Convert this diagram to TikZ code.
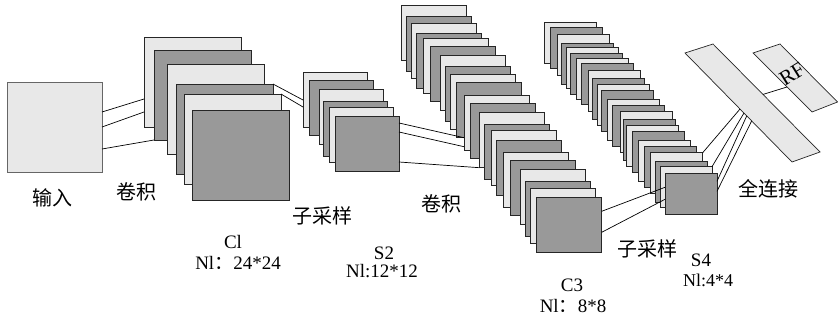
\documentclass[tikz,border=0pt]{standalone}
\usepackage{fontspec}
\setmainfont{Liberation Serif}
\newfontfamily\latfont{Liberation Serif}
\newfontfamily\cjk{Noto Sans CJK SC}
\usetikzlibrary{calc}
\definecolor{lightsq}{RGB}{232,232,232}
\definecolor{darksq}{RGB}{153,153,153}
\begin{document}
\begin{tikzpicture}[x=1pt,y=-1pt,
  sqbox/.style={draw=black!85, line width=0.7pt, inner sep=0pt, outer sep=0pt, anchor=north west},
  conn/.style={draw=black, line width=0.7pt},
  panel/.style={draw=black!85, line width=0.7pt, fill=lightsq},
  zh/.style={font=\cjk\fontsize{20}{24}\selectfont, inner sep=0pt},
  lat/.style={font=\latfont\fontsize{19}{22}\selectfont, inner sep=0pt}]
\useasboundingbox (0,0) rectangle (838,321);

% input
\node[sqbox, fill=lightsq, draw=black!60, minimum width=95pt, minimum height=90pt] (in) at (7,82) {};

% C1
\foreach \x/\y/\c [count=\i] in {144/37/lightsq,154/50/darksq,167/64/lightsq,176/84/darksq,184/94/lightsq,192/110/darksq}
  \node[sqbox, fill=\c, minimum width=97pt, minimum height=90pt] (c1-\i) at (\x,\y) {};

% S2
\foreach \x/\y/\c [count=\i] in {303/72/lightsq,309/80/darksq,319/89/lightsq,323/101/darksq,329/107/lightsq,335/116/darksq}
  \node[sqbox, fill=\c, minimum width=64pt, minimum height=55pt] (s2-\i) at (\x,\y) {};

% C3
\foreach \x/\y/\c [count=\i] in {401.3/5/lightsq,406/16.7/darksq,411.7/23.3/lightsq,416.7/33.3/darksq,423.3/38.3/lightsq,430.7/46/darksq,440/55/lightsq,445/66.7/darksq,450.7/74/lightsq,456.7/82.7/darksq,464/95.7/lightsq,470/103.3/darksq,479.3/112.7/lightsq,484.3/124.3/darksq,491/130/lightsq,496.7/140/darksq,503.3/152.3/lightsq,510/160/darksq,520/169.3/lightsq,525/181.7/darksq,530.7/188.3/lightsq,536.7/197.3/darksq}
  \node[sqbox, fill=\c, minimum width=65pt, minimum height=55pt] (c3-\i) at (\x,\y) {};

% S4
\foreach \x/\y/\c [count=\i] in {544.3/22.3/lightsq,550/27.3/darksq,557.3/34/lightsq,561.7/43.3/darksq,566/47.3/lightsq,570.7/53.3/darksq,576/58.3/lightsq,581.7/63.3/darksq,588.3/70/lightsq,592.7/78.3/darksq,597.3/84/lightsq,601/90/darksq,607.3/99.3/lightsq,612.3/105/darksq,620/111/lightsq,623.3/119.3/darksq,626.7/125/lightsq,632.7/131.7/darksq,638.3/140/lightsq,644/146/darksq,650.7/152.7/lightsq,655.7/161.7/darksq,660/166.7/lightsq,665/173.3/darksq}
  \node[sqbox, fill=\c, minimum width=52pt, minimum height=41pt] (s4-\i) at (\x,\y) {};

% fully connected panel and RF panel
\coordinate (fcA) at (685,53);
\coordinate (fcB) at (713,44);
\coordinate (fcC) at (820,152);
\coordinate (fcD) at (792,162);
\draw[panel] (fcA) -- (fcB) -- (fcC) -- (fcD) -- cycle;
\coordinate (rfE) at (753,53);
\coordinate (rfF) at (780,44);
\coordinate (rfG) at (837.5,102);
\coordinate (rfH) at (812,112);
\draw[panel] (rfE) -- (rfF) -- (rfG) -- (rfH) -- cycle;
\node[lat, font=\latfont\fontsize{21}{24}\selectfont, rotate=32] (rf) at (792,74) {RF};

% connectors
\draw[conn] ($(in.north east)+(0,30)$) -- ($(c1-1.north west)+(0,62)$);
\draw[conn] ($(in.north east)+(0,45)$) -- ($(c1-1.north west)+(0,75)$);
\draw[conn] ($(in.north east)+(0,67)$) -- (c1-2.south west);

\draw[conn] (c1-4.north east) -- ($(s2-1.north west)+(0,28)$);
\draw[conn] (c1-5.north east) -- ($(s2-1.north west)+(0,35)$);

\draw[conn] ($(s2-6.north east)+(0,7)$) -- ($(c3-11.north west)+(0,42)$);
\draw[conn] ($(s2-6.north east)+(0,16)$) -- ($(c3-11.north west)+(0,51)$);
\draw[conn] ($(s2-6.north east)+(0,46)$) -- (c3-13.south west);

\draw[conn] ($(c3-22.north east)+(0,14)$) -- ($(s4-24.north west)+(0,14)$);
\draw[conn] ($(c3-22.north east)+(0,35)$) -- ($(s4-24.north west)+(0,26)$);

\draw[conn] (s4-21.north east) -- ($(fcA)!0.514!(fcD)$);
\draw[conn] (s4-23.north east) -- ($(fcA)!0.551!(fcD)$);
\draw[conn] ($(s4-24.north east)+(0,8)$) -- ($(fcA)!0.577!(fcD)$);
\draw[conn] ($(s4-24.north east)+(0,18)$) -- ($(fcA)!0.623!(fcD)$);

\draw[conn] ($(fcB)!0.467!(fcC)$) -- ($(rfE)!0.576!(rfH)$);

% labels
\node[zh] (l-in) at (52,198) {输入};
\node[zh] (l-conv1) at (136,192) {卷积};
\node[zh] (l-sub1) at (322,216) {子采样};
\node[lat] (l-c1) at (233,242) {Cl};
\node[lat] (l-c1n) at (238,263) {Nl{\cjk ：}24*24};
\node[lat] (l-s2) at (384,253) {S2};
\node[lat] (l-s2n) at (382,271) {Nl:12*12};
\node[zh] (l-conv2) at (441,204) {卷积};
\node[lat] (l-c3) at (572,285) {C3};
\node[lat] (l-c3n) at (573,306) {Nl{\cjk ：}8*8};
\node[zh] (l-sub2) at (647,249) {子采样};
\node[lat] (l-s4) at (701,260) {S4};
\node[lat, font=\latfont\fontsize{18}{21}\selectfont] (l-s4n) at (708,280) {Nl:4*4};
\node[zh] (l-fc) at (768,189) {全连接};
\end{tikzpicture}
\end{document}
